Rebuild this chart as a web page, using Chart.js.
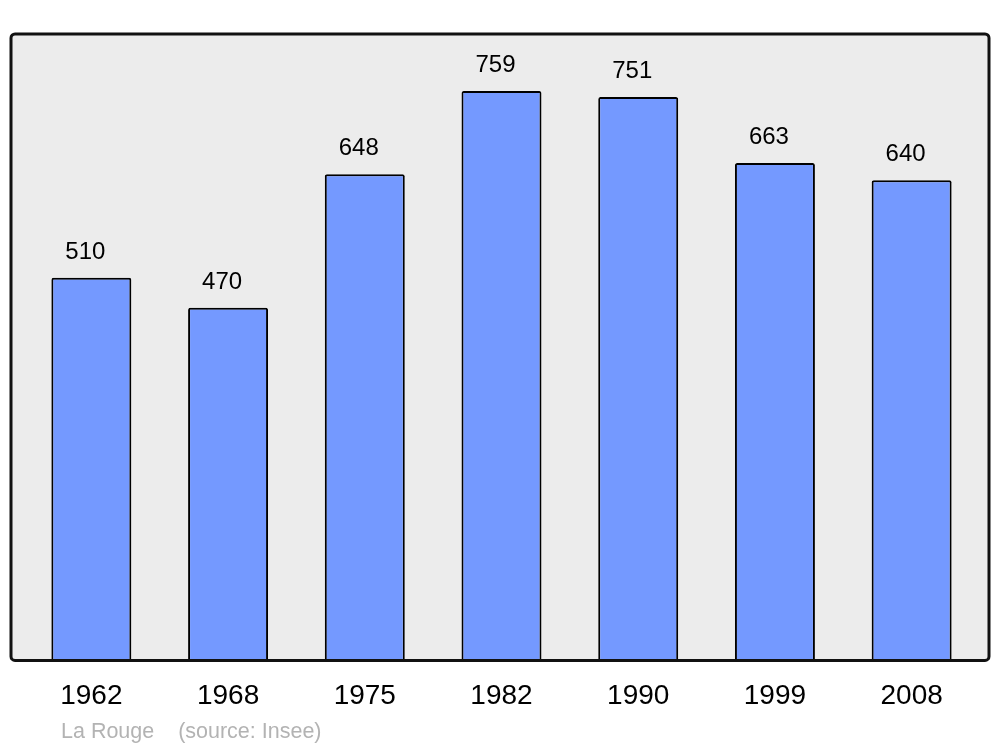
<!DOCTYPE html>
<html>
<head>
<meta charset="utf-8">
<script src="https://cdn.jsdelivr.net/npm/chart.js@4/dist/chart.umd.min.js"></script>
<style>
  html, body { margin: 0; padding: 0; background: #fff; }
  #wrap { width: 1000px; height: 747px; }
</style>
</head>
<body>
<div id="wrap"><canvas id="popChart" width="1000" height="747"></canvas></div>
<script>
// Population data
var years = ['1962', '1968', '1975', '1982', '1990', '1999', '2008'];
var population = [510, 470, 648, 759, 751, 663, 640];
var footerText = 'La Rouge    (source: Insee)';

// Grey frame behind the bars, value labels and footer
var framePlugin = {
    id: 'frame',
    beforeDatasetsDraw: function(chart) {
        var ctx = chart.ctx;
        var a = chart.chartArea;
        ctx.save();
        ctx.beginPath();
        ctx.roundRect(11, a.top, 978, a.bottom - a.top, 4);
        ctx.fillStyle = '#ececec';
        ctx.fill();
        ctx.restore();
    },
    afterDatasetsDraw: function(chart) {
        var ctx = chart.ctx;
        var a = chart.chartArea;
        ctx.save();
        ctx.beginPath();
        ctx.roundRect(11, a.top, 978, a.bottom - a.top, 4);
        ctx.lineWidth = 3;
        ctx.strokeStyle = '#111';
        ctx.stroke();

        // value labels (sit slightly left of bar centre in the original)
        ctx.font = '24px "Liberation Sans", Arial, sans-serif';
        ctx.fillStyle = '#000';
        ctx.textAlign = 'center';
        ctx.textBaseline = 'alphabetic';
        var meta = chart.getDatasetMeta(0);
        for (var i = 0; i < meta.data.length; i++) {
            var bar = meta.data[i];
            ctx.fillText(String(population[i]), bar.x - 6, bar.y - 19);
        }

        // footer
        ctx.font = '21.5px "Liberation Sans", Arial, sans-serif';
        ctx.fillStyle = '#b3b3b3';
        ctx.textAlign = 'left';
        ctx.fillText(footerText, 61, 738);
        ctx.restore();
    }
};

var ctx = document.getElementById('popChart').getContext('2d');
var popChart = new Chart(ctx, {
    type: 'bar',
    data: {
        labels: years,
        datasets: [{
            data: population,
            backgroundColor: '#7499ff',
            borderColor: '#000',
            borderWidth: 2,
            borderSkipped: 'bottom',
            borderRadius: 2,
            barPercentage: 0.585,
            categoryPercentage: 1
        }]
    },
    options: {
        responsive: false,
        animation: false,
        layout: { padding: { left: 23, right: 20, top: 34, bottom: 15 } },
        plugins: {
            legend: { display: false },
            tooltip: { enabled: false }
        },
        scales: {
            x: {
                grid: { display: false, drawTicks: false },
                border: { display: false },
                ticks: {
                    color: '#000',
                    padding: 19,
                    font: { family: '"Liberation Sans", Arial, sans-serif', size: 28 }
                }
            },
            y: {
                display: false,
                min: 0,
                max: 835
            }
        }
    },
    plugins: [framePlugin]
});
</script>
</body>
</html>
